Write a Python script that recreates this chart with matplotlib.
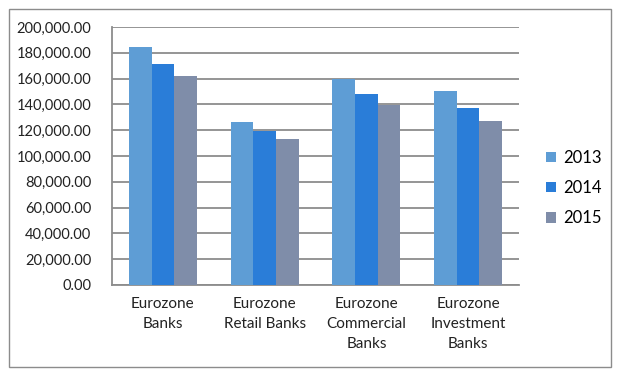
import numpy as np
import matplotlib.pyplot as plt
from matplotlib.patches import Rectangle
from matplotlib.ticker import FuncFormatter

plt.rcParams['font.family'] = ['Lato', 'DejaVu Sans']

categories = ['Eurozone\nBanks', 'Eurozone\nRetail Banks',
              'Eurozone\nCommercial\nBanks', 'Eurozone\nInvestment\nBanks']
years = ['2013', '2014', '2015']
v2013 = [184300, 126600, 159400, 150400]
v2014 = [171300, 119600, 147800, 137200]
v2015 = [162000, 112900, 139500, 127100]
colors = ['#5E9DD5', '#2A7DD8', '#7F8DA9']

fig = plt.figure(figsize=(6.21, 3.75), dpi=100)
fig.patches.append(Rectangle((9 / 621, 8 / 375), 602 / 621, 358 / 375,
                             transform=fig.transFigure, fill=False,
                             edgecolor='#8C8C8C', lw=1.0))
ax = fig.add_axes([112 / 621, 90 / 375, 407 / 621, 258 / 375])

x = np.arange(len(categories))
w = 0.222
for i, (vals, yr) in enumerate(zip([v2013, v2014, v2015], years)):
    ax.bar(x + (i - 1) * w, vals, width=w, color=colors[i], label=yr, zorder=3)

ax.set_xlim(-0.5, 3.5)
ax.set_ylim(0, 200000)
ax.set_yticks(np.arange(0, 200001, 20000))
ax.yaxis.set_major_formatter(FuncFormatter(lambda v, p: f'{v:,.2f}'))
ax.set_xticks(x)
ax.set_xticklabels(categories, linespacing=1.5)
ax.tick_params(axis='both', length=0, labelsize=11, colors='#222222')
ax.tick_params(axis='y', pad=15, labelsize=10.5)
ax.tick_params(axis='x', pad=9)
ax.grid(axis='y', color='#8C8C8C', lw=1.3, zorder=0)
for s in ['top', 'right']:
    ax.spines[s].set_visible(False)
for s in ['left', 'bottom']:
    ax.spines[s].set_color('#8C8C8C')
    ax.spines[s].set_linewidth(1.3)

ax.legend(loc='center left', bbox_to_anchor=(1.03, 0.376), frameon=False,
          fontsize=12, handlelength=0.6, handleheight=0.6,
          handletextpad=0.4, labelspacing=0.85)

fig.savefig('out.png', dpi=100)
